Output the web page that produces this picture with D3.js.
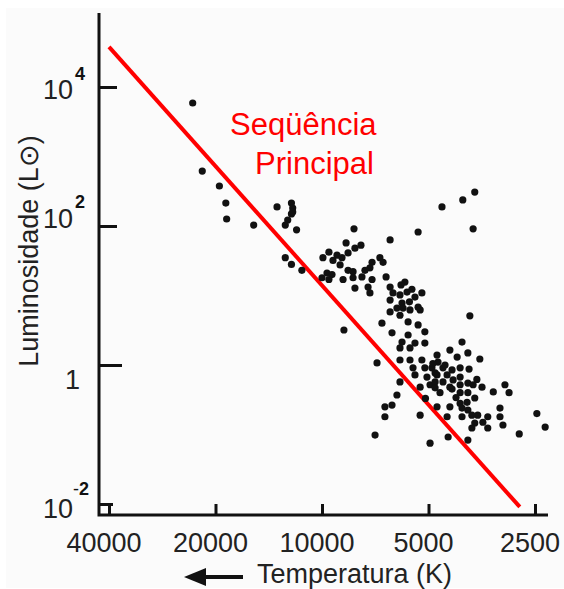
<!DOCTYPE html>
<html lang="pt">
  <head>
    <meta charset="utf-8">
    <title>Diagrama HR</title>
    <script src="https://cdn.jsdelivr.net/npm/d3@7"></script>
    <style>
      body { margin: 0; background: #fff; }
      text { font-family: 'Liberation Sans', Arial, Helvetica, sans-serif; }
    </style>
  </head>
  <body>
    <div id='chart'></div>
    <script type='text/javascript'>
      // temperature (K), luminosity (L sun)
      let stars = [
        [23200, 5890], [21800, 618], [19500, 376], [18700, 214], [18600, 126],
        [15600, 103], [13400, 188], [12200, 214], [12100, 181], [12200, 149],
        [12500, 122], [12700, 103], [11800, 88], [12700, 35], [12200, 28],
        [11400, 23], [12100, 159], [8120, 91], [5350, 82], [6420, 63],
        [4580, 188], [4000, 237], [3700, 308], [3740, 91], [8550, 57],
        [7760, 53], [8070, 48], [9560, 42], [9070, 38], [9940, 35],
        [9310, 32], [8780, 35], [8440, 41], [8890, 27.5], [7220, 30],
        [6860, 35], [7320, 25], [6720, 30], [8440, 23], [8170, 22],
        [7560, 23], [9680, 21], [9370, 20], [10000, 18], [9560, 17],
        [8720, 17], [8170, 18], [7710, 18.5], [7220, 17], [6590, 18.5],
        [8070, 12.8], [7410, 13.2], [7320, 10.9], [6420, 13.2], [5830, 15.6],
        [6300, 10.9], [6020, 10.2], [5750, 11.2], [5220, 10.9], [5460, 9.5],
        [6420, 8.6], [5940, 7.8], [5350, 6.8], [6420, 5.8], [6140, 6.6],
        [5900, 6.6], [5640, 6.2], [5280, 6.2], [6020, 5.2], [6770, 4.0],
        [5710, 4.16], [5350, 3.77], [5120, 3.0], [6340, 2.9], [5710, 2.7],
        [5940, 2.14], [5460, 2.07], [5120, 2.07], [6020, 1.76], [5640, 1.76],
        [4020, 2.14], [4350, 1.64], [3870, 1.49], [4730, 1.39], [6990, 1.07],
        [6020, 1.18], [5640, 1.18], [5220, 1.18], [4700, 1.10], [5530, 0.91],
        [5120, 0.91], [4890, 0.91], [4550, 0.91], [4290, 0.85], [4070, 0.91],
        [5460, 0.72], [5050, 0.67], [4730, 0.72], [4430, 0.72], [4260, 0.61],
        [4070, 0.67], [6020, 0.57], [5280, 0.48], [4950, 0.52], [4550, 0.57],
        [4350, 0.48], [4070, 0.52], [3870, 0.55], [4640, 0.40], [4070, 0.40],
        [6140, 0.37], [4350, 0.25], [4730, 0.25], [4070, 0.28], [6340, 0.265],
        [6640, 0.25], [6640, 0.18], [5280, 0.19], [4430, 0.18], [7080, 0.098],
        [4950, 0.075], [4400, 0.092], [3870, 0.40], [3820, 5.1], [3580, 1.22],
        [3840, 0.875], [4490, 1.0], [4790, 0.77], [4790, 0.57], [3740, 0.52],
        [3530, 0.48], [3040, 0.52], [3280, 0.41], [2960, 0.40], [4290, 0.45],
        [4790, 0.47], [3700, 0.335], [3890, 0.29], [4020, 0.24], [3870, 0.225],
        [3140, 0.24], [3630, 0.19], [3400, 0.18], [3770, 0.19], [4020, 0.18],
        [3140, 0.18], [3700, 0.146], [3510, 0.15], [3770, 0.124], [3400, 0.124],
        [3080, 0.137], [2470, 0.20], [2340, 0.128], [2770, 0.102], [3870, 0.083],
        [8670, 3.19], [5570, 12.3], [5980, 14.2], [5100, 0.33], [4180, 0.34],
        [5660, 8.1], [4860, 1.05], [4150, 1.3], [3650, 0.62]
      ];

      let mainSeqTemp = [40000, 2760];
      let mainSeqLum = [37700, 0.0091];

      let tempTicks = [40000, 20000, 10000, 5000, 2500];
      let lumTickExps = [4, 2, 0, -2];

      let width = 564, height = 589;
      let axisX = 99, axisY = 515;

      let svg = d3.select('#chart').append('svg')
        .attr('width', width)
        .attr('height', height)

      svg.append('rect')
        .attr('x', 6).attr('y', 8)
        .attr('width', width - 6).attr('height', height - 9)
        .attr('fill', '#fbfbfb')

      let scale_x = d3.scaleLog()
        .domain([40000, 2500])
        .range([109, 535])
      let scale_y = d3.scaleLog()
        .domain([1e4, 1e-2])
        .range([87, 504])

      // ticks only, axis lines are drawn by hand below
      let x_axis = d3.axisBottom(scale_x)
        .tickValues(tempTicks)
        .tickSize(-11)
        .tickSizeOuter(0)
        .tickFormat('')
      let gx = svg.append('g')
        .attr('transform', 'translate(0,' + axisY + ')')
        .call(x_axis)

      let y_axis = d3.axisLeft(scale_y)
        .tickValues(lumTickExps.map(e => Math.pow(10, e)))
        .tickSize(-18)
        .tickSizeOuter(0)
        .tickFormat('')
      let gy = svg.append('g')
        .attr('transform', 'translate(' + axisX + ',0)')
        .call(y_axis)

      gx.select('.domain').remove()
      gy.select('.domain').remove()
      svg.selectAll('.tick line')
        .attr('stroke', '#111')
        .attr('stroke-width', 3)
      gy.selectAll('.tick line')
        .attr('x2', (d, i) => i == 2 ? 23 : (i == 3 ? 14 : 18))

      svg.append('path')
        .attr('d', 'M' + axisX + ',13V' + axisY + 'H548')
        .attr('fill', 'none')
        .attr('stroke', '#111')
        .attr('stroke-width', 3)

      // tick labels
      svg.selectAll('.xlab')
        .data(tempTicks)
        .enter()
        .append('text')
        .attr('class', 'xlab')
        .attr('x', d => scale_x(d) - 5)
        .attr('y', 552)
        .attr('text-anchor', 'middle')
        .attr('font-size', '27px')
        .attr('fill', '#222')
        .text(d => d)

      // baseline offsets of the power labels, as drawn in the original
      let baseDy = {'4': 12, '2': 2, '0': 24, '-2': 14}
      let supDy = {'4': -7, '2': -18, '-2': -9}
      lumTickExps.forEach(e => {
        let ty = scale_y(Math.pow(10, e))
        if (e == 0) {
          svg.append('text')
            .attr('x', 80).attr('y', ty + baseDy['0'])
            .attr('text-anchor', 'end')
            .attr('font-size', '27px').attr('fill', '#222')
            .text('1')
          return
        }
        svg.append('text')
          .attr('x', 73).attr('y', ty + baseDy[e])
          .attr('text-anchor', 'end')
          .attr('font-size', '27px').attr('fill', '#222')
          .text('10')
        let sup = svg.append('text')
          .attr('x', e < 0 ? 73 : 75).attr('y', ty + supDy[e])
          .attr('font-size', '18px').attr('fill', '#111')
        if (e < 0) sup.append('tspan').text('-')
        sup.append('tspan').attr('font-weight', 'bold').text(Math.abs(e))
      })

      // axis titles
      svg.append('text')
        .attr('transform', 'translate(38,251) rotate(-90)')
        .attr('text-anchor', 'middle')
        .attr('font-size', '27px')
        .attr('fill', '#222')
        .text('Luminosidade (L\u2299)')

      svg.append('text')
        .attr('x', 257).attr('y', 583)
        .attr('font-size', '27px')
        .attr('fill', '#222')
        .text('Temperatura (K)')

      svg.append('line')
        .attr('x1', 200).attr('x2', 243)
        .attr('y1', 577).attr('y2', 577)
        .attr('stroke', '#111')
        .attr('stroke-width', 4)
      svg.append('path')
        .attr('d', 'M184,577L206,568L206,586Z')
        .attr('fill', '#111')

      // main sequence
      let seq = mainSeqTemp.map((t, i) => [t, mainSeqLum[i]])
      svg.append('path')
        .datum(seq)
        .attr('d', d3.line().x(d => scale_x(d[0])).y(d => scale_y(d[1])))
        .attr('fill', 'none')
        .attr('stroke', '#f00')
        .attr('stroke-width', 4)

      svg.selectAll('circle')
        .data(stars)
        .enter()
        .append('circle')
        .attr('cx', d => scale_x(d[0]))
        .attr('cy', d => scale_y(d[1]))
        .attr('r', 3.6)
        .attr('fill', '#111')

      svg.append('text')
        .attr('x', 230).attr('y', 135)
        .attr('font-size', '31px')
        .attr('fill', '#f00')
        .text('Seqüência')
      svg.append('text')
        .attr('x', 255).attr('y', 174)
        .attr('font-size', '31px')
        .attr('fill', '#f00')
        .text('Principal')
    </script>
  </body>
</html>
